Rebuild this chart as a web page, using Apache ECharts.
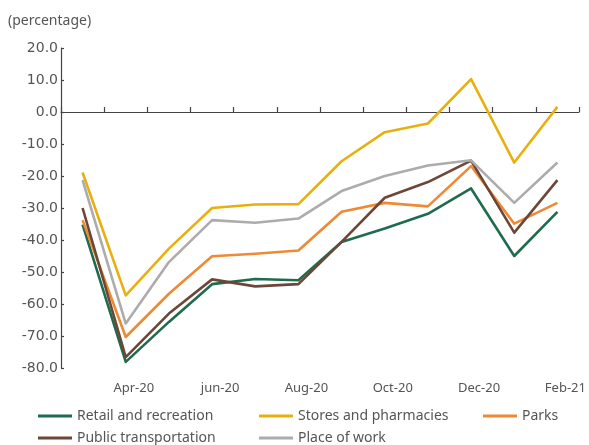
<!DOCTYPE html>
<html>
<head>
<meta charset="utf-8">
<script src="https://cdn.jsdelivr.net/npm/echarts@6/dist/echarts.min.js"></script>
<style>
html,body{margin:0;padding:0;background:#fff;}
#chart{width:589px;height:445px;}
</style>
</head>
<body>
<div id="chart"></div>
<script>
const categories = ['Mar-20','Apr-20','May-20','jun-20','Jul-20','Aug-20','Sep-20','Oct-20','Nov-20','Dec-20','Jan-21','Feb-21'];
const retail = [-35.2, -78.1, -65.6, -53.8, -52.2, -52.6, -40.6, -36.4, -31.8, -23.9, -45.0, -31.2];
const stores = [-18.9, -57.3, -42.7, -30.0, -28.9, -28.8, -15.4, -6.3, -3.6, 10.3, -15.8, 1.6];
const parks = [-33.8, -70.3, -56.8, -45.1, -44.3, -43.3, -31.2, -28.4, -29.5, -16.9, -34.9, -28.4];
const transport = [-30.0, -76.6, -63.0, -52.3, -54.5, -53.8, -40.6, -26.8, -21.9, -15.2, -37.7, -21.3];
const work = [-21.3, -66.1, -46.9, -33.8, -34.6, -33.3, -24.7, -20.0, -16.7, -15.1, -28.4, -15.8];
const yTicks = {min: -80, max: 20, interval: 10};

const seriesDefs = [
  {name: 'Retail and recreation', data: retail, color: '#1f6b4d'},
  {name: 'Stores and pharmacies', data: stores, color: '#e8b00e'},
  {name: 'Parks', data: parks, color: '#ee8a36'},
  {name: 'Public transportation', data: transport, color: '#6c4636'},
  {name: 'Place of work', data: work, color: '#acacac'}
];

const FONT = 'Noto Sans';
const TXT = '#555555';
const AX = '#444444';

const chart = echarts.init(document.getElementById('chart'), null, {renderer: 'canvas'});

function legendItem(name, left, top) {
  return {
    orient: 'horizontal',
    left: left,
    top: top,
    padding: 0,
    itemWidth: 34,
    itemHeight: 3,
    icon: 'rect',
    selectedMode: false,
    textStyle: {fontFamily: FONT, fontSize: 14, color: TXT, padding: 0},
    data: [{name: name, icon: 'rect'}]
  };
}

chart.setOption({
  animation: false,
  backgroundColor: '#ffffff',
  title: {
    text: '(percentage)',
    left: 3,
    top: 9,
    textStyle: {fontFamily: FONT, fontSize: 14, fontWeight: 'normal', color: TXT}
  },
  legend: [
    legendItem('Retail and recreation', 38, 409),
    legendItem('Stores and pharmacies', 259, 409),
    legendItem('Parks', 483, 409),
    legendItem('Public transportation', 38, 431),
    legendItem('Place of work', 259, 431)
  ],
  grid: {left: 61, right: 10, top: 48, bottom: 77, containLabel: false, outerBoundsMode: 'none'},
  xAxis: [
    {
      type: 'category',
      data: categories,
      position: 'top',
      boundaryGap: true,
      axisLine: {onZero: true, lineStyle: {color: AX, width: 1.2}},
      axisTick: {show: true, inside: false, length: 5, interval: 0, lineStyle: {color: AX, width: 1.2}},
      axisLabel: {show: false},
      splitLine: {show: false}
    },
    {
      type: 'category',
      data: categories,
      position: 'bottom',
      boundaryGap: true,
      axisLine: {show: false, onZero: false},
      axisTick: {show: false},
      axisLabel: {
        show: true,
        interval: (idx) => idx % 2 === 1,
        margin: 14,
        padding: [0, 0, 0, 16],
        fontFamily: FONT, fontSize: 13, color: TXT
      },
      splitLine: {show: false}
    }
  ],
  yAxis: {
    type: 'value',
    min: yTicks.min,
    max: yTicks.max,
    interval: yTicks.interval,
    axisLine: {show: true, lineStyle: {color: AX, width: 1.2}},
    axisTick: {show: true, inside: true, length: 3, lineStyle: {color: AX, width: 1.2}},
    axisLabel: {
      margin: 3,
      formatter: v => v.toFixed(1),
      fontFamily: 'DejaVu Sans', fontSize: 14, color: TXT
    },
    splitLine: {show: false}
  },
  series: seriesDefs.map(s => ({
    name: s.name,
    type: 'line',
    xAxisIndex: 0,
    data: s.data,
    symbol: 'none',
    color: s.color,
    lineStyle: {color: s.color, width: 2.6, join: 'round'},
    itemStyle: {color: s.color},
    emphasis: {disabled: true}
  }))
});
</script>
</body>
</html>
